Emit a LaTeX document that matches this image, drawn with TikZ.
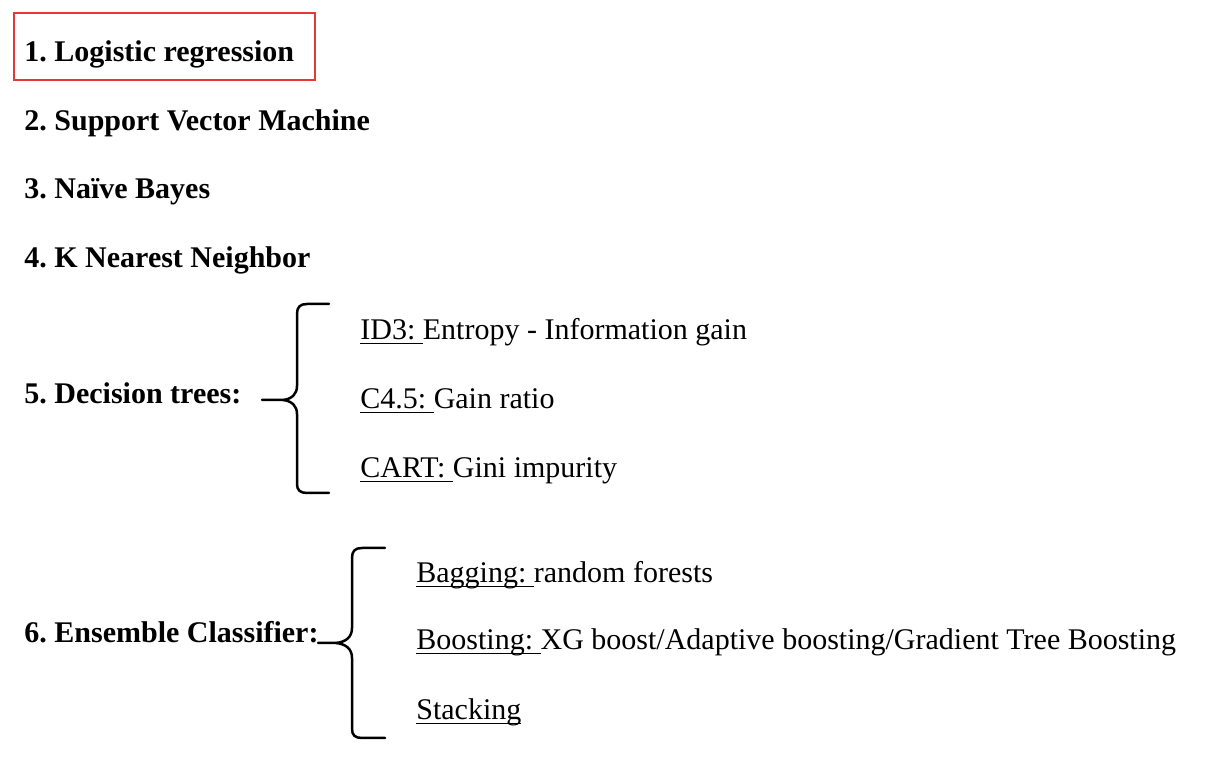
\documentclass[tikz,border=0pt]{standalone}
\usepackage{fontspec}
\setmainfont{Liberation Serif}
\frenchspacing
\definecolor{boxred}{RGB}{229,57,53}
\newcommand{\myul}[1]{\setbox0=\hbox{#1}\rlap{\rule[-2.2pt]{\wd0}{0.7pt}}\box0}
\begin{document}
\begin{tikzpicture}[x=0.5pt,y=-0.5pt,
  every node/.style={inner sep=0pt, anchor=base west, font=\fontsize{15}{18}\selectfont\frenchspacing},
  head/.style={font=\fontsize{15}{18}\selectfont\bfseries\frenchspacing},
  brace/.style={line width=1.25pt, line cap=round, line join=round},
  redframe/.style={draw=boxred, line width=1pt}]
\useasboundingbox (0,0) rectangle (1212,764);
\draw[redframe] (14,13) rectangle (315,80);
\node[head] (n1) at (24,62) {1. Logistic regression};
\node[head] (n2) at (24,131) {2. Support Vector Machine};
\node[head] (n3) at (24,199) {3. Naïve Bayes};
\node[head] (n4) at (24,268) {4. K Nearest Neighbor};
\node[head] (n5) at (24,404) {5. Decision trees:};
\node[head] (n6) at (24,643) {6. Ensemble Classifier:};
\node (d1) at (360,340) {\myul{ID3: }Entropy - Information gain};
\node (d2) at (360,409) {\myul{C4.5: }Gain ratio};
\node (d3) at (360,478) {\myul{CART: }Gini impurity};
\node (e1) at (416,583) {\myul{Bagging: }random forests};
\node (e2) at (416,650) {\myul{Boosting: }XG boost/Adaptive boosting/Gradient Tree Boosting};
\node (e3) at (416,720) {\myul{Stacking}};
\draw[brace] (329,304) -- (307,304) .. controls (300,304) and (297,307) .. (297,314) -- (297,386) .. controls (297,394) and (292,399) .. (283,400) -- (262,400);
\draw[brace] (283,400) .. controls (292,401) and (297,406) .. (297,414) -- (297,484) .. controls (297,490) and (300,493) .. (307,493) -- (329,493);
\draw[brace] (385,548) -- (362,548) .. controls (355,548) and (352,551) .. (352,558) -- (352,628) .. controls (352,637) and (346,642) .. (336,643) -- (318,643);
\draw[brace] (336,643) .. controls (346,644) and (352,649) .. (352,658) -- (352,729) .. controls (352,735) and (355,738) .. (362,738) -- (385,738);
\end{tikzpicture}
\end{document}
